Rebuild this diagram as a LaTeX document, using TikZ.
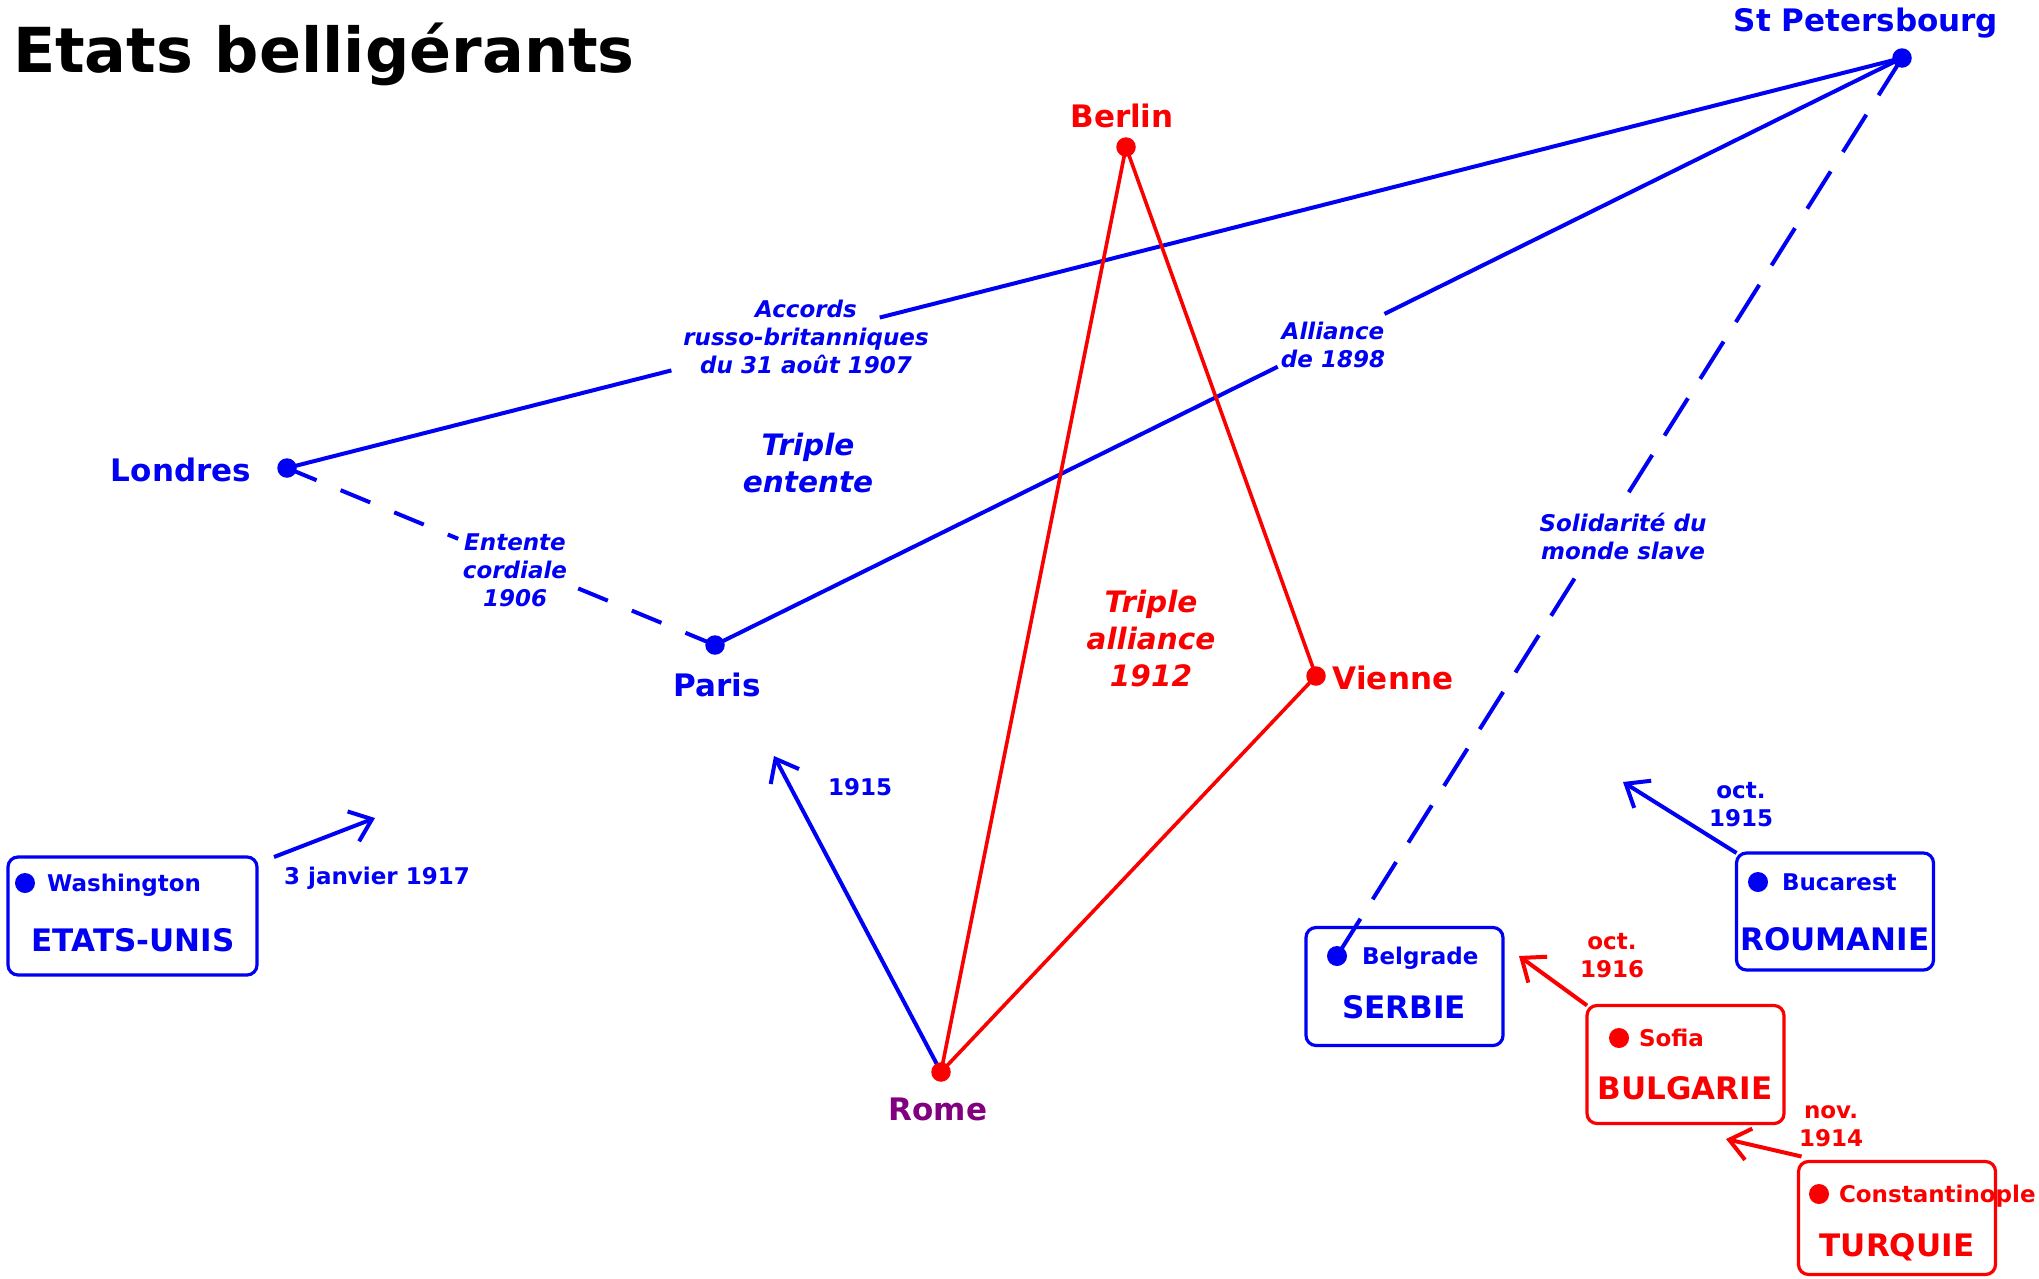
\documentclass[tikz,border=0pt]{standalone}
\usepackage{fontspec}
\setmainfont{DejaVu Sans}
\usetikzlibrary{arrows.meta,calc}
\definecolor{cblue}{RGB}{0,0,245}
\definecolor{cred}{RGB}{250,0,0}
\definecolor{cpurple}{RGB}{128,0,128}
\begin{document}
\begin{tikzpicture}[x=1pt,y=-1pt,
  every node/.style={inner sep=0pt, outer sep=0pt},
  dotb/.style={circle, fill=cblue, minimum size=19.5pt, inner sep=0pt},
  dotr/.style={circle, fill=cred, minimum size=19.5pt, inner sep=0pt},
  bdotb/.style={circle, fill=cblue, minimum size=20pt, inner sep=0pt},
  bdotr/.style={circle, fill=cred, minimum size=20pt, inner sep=0pt},
  city/.style={anchor=base, font=\fontsize{31}{37}\selectfont\bfseries},
  linklab/.style={align=center, font=\fontsize{23}{28}\selectfont\bfseries\itshape, text=cblue},
  biglab/.style={align=center, font=\fontsize{29.5}{37}\selectfont\bfseries\itshape},
  datelab/.style={align=center, font=\fontsize{23}{28}\selectfont\bfseries},
  smalllab/.style={anchor=base west, font=\fontsize{23}{28}\selectfont\bfseries},
  countrylab/.style={anchor=base, font=\fontsize{31}{37}\selectfont\bfseries},
  bluel/.style={draw=cblue, line width=4pt},
  redl/.style={draw=cred, line width=3.6pt},
  dashl/.style={bluel, dash pattern=on 32pt off 26pt},
  ldashl/.style={bluel, dash pattern=on 44pt off 23pt},
  arr/.style={line width=4pt, -{Straight Barb[length=20pt,width=32pt]}},
  boxb/.style={draw=cblue, line width=3.2pt, rounded corners=10pt, minimum width=197pt, minimum height=118pt},
  boxr/.style={draw=cred, line width=3.2pt, rounded corners=10pt, minimum width=197pt, minimum height=118pt}
]
\useasboundingbox[fill=white] (0,0) rectangle (2039,1278);

% title
\node[anchor=base west, font=\fontsize{62}{70}\selectfont\bfseries] (title) at (13,72) {Etats belligérants};

% city positions
\coordinate (stp) at (1902,58);
\coordinate (ber) at (1126,147);
\coordinate (lon) at (287,468);
\coordinate (par) at (715,645);
\coordinate (vie) at (1316,676);
\coordinate (rom) at (941,1072);
\coordinate (bel) at (1337,956);

% boxes
\node[boxb, minimum width=249pt] (usa) at (132.5,916) {};
\node[boxb] (ser) at (1404.5,986.5) {};
\node[boxb, minimum height=117pt] (rou) at (1835,911.5) {};
\node[boxr] (bul) at (1685.5,1064.5) {};
\node[boxr, minimum height=113pt] (tur) at (1897,1218) {};

% blue links
\draw[bluel] (lon) -- ($(lon)!0.238!(stp)$);
\draw[bluel] ($(lon)!0.367!(stp)$) -- (stp);
\draw[bluel] (par) -- ($(par)!0.474!(stp)$);
\draw[bluel] ($(par)!0.564!(stp)$) -- (stp);
\draw[dashl] (lon) -- ($(lon)!0.40!(par)$);
\draw[dashl] (par) -- ($(lon)!0.678!(par)$);
\draw[ldashl] (stp) -- ($(stp)!0.488!(bel)$);
\draw[ldashl] (bel) -- ($(stp)!0.575!(bel)$);

% arrows
\coordinate (romtip) at (774,756);
\coordinate (usatip) at (375,818);
\coordinate (routip) at (1623,782);
\coordinate (bultip) at (1519,956);
\coordinate (turtip) at (1726,1139);
\draw[arr, cblue] (rom) -- (romtip);
\draw[arr, cblue] ([xshift=17pt]usa.north east) -- (usatip);
\draw[arr, cblue] (rou.north west) -- (routip);
\draw[arr, cred] (bul.north west) -- (bultip);
\draw[arr, cred] ([xshift=3pt,yshift=5pt]tur.north west) -- (turtip);

% red links
\draw[redl] (ber) -- (rom);
\draw[redl] (ber) -- (vie);
\draw[redl] (vie) -- (rom);

% dots
\node[dotb] (stpdot) at (stp) {};
\node[dotr] (berdot) at (ber) {};
\node[dotb] (londot) at (lon) {};
\node[dotb] (pardot) at (par) {};
\node[dotr] (viedot) at (vie) {};
\node[dotr] (romdot) at (rom) {};

% city labels
\node[city, text=cblue] (stpl) at (1866,31) {St Petersbourg};
\node[city, text=cred] (berl) at (1122,127) {Berlin};
\node[city, text=cblue] (lonl) at (181,481) {Londres};
\node[city, text=cblue] (parl) at (717,696) {Paris};
\node[city, text=cred] (viel) at (1393,689) {Vienne};
\node[city, text=cpurple] (roml) at (938,1120) {Rome};

% link labels
\node[linklab] (accl) at (806,337) {Accords\\russo-britanniques\\du 31 août 1907};
\node[linklab] (entl) at (515,570) {Entente\\cordiale\\1906};
\node[linklab] (alll) at (1333,345) {Alliance\\de 1898};
\node[linklab] (soll) at (1623,536) {Solidarité du\\monde slave};
\node[biglab, text=cblue] (tentl) at (808,463) {Triple\\entente};
\node[biglab, text=cred] (tall) at (1151,639) {Triple\\alliance\\1912};

% date labels
\node[datelab, text=cblue] (d1915) at (860,787) {1915};
\node[datelab, text=cblue] (d1917) at (377,878) {3 janvier 1917};
\node[datelab, text=cblue] (dro) at (1741,805) {oct.\\1915};
\node[datelab, text=cred] (dbu) at (1612,956) {oct.\\1916};
\node[datelab, text=cred] (dtu) at (1831,1126) {nov.\\1914};

% box contents
\node[bdotb] (wdot) at (25,883) {};
\node[smalllab, text=cblue] (wlab) at (47,891.4) {Washington};
\node[countrylab, text=cblue] (usal) at (133,951.3) {ETATS-UNIS};

\node[bdotb] (beldot) at (bel) {};
\node[smalllab, text=cblue] (bell) at (1362,964.4) {Belgrade};
\node[countrylab, text=cblue] (serl) at (1404,1018.3) {SERBIE};

\node[bdotb] (bucdot) at (1758,882) {};
\node[smalllab, text=cblue] (bucl) at (1782,890.4) {Bucarest};
\node[countrylab, text=cblue] (roul) at (1835,950.3) {ROUMANIE};

\node[bdotr] (sofdot) at (1619,1038) {};
\node[smalllab, text=cred] (sofl) at (1639,1046.4) {Sofia};
\node[countrylab, text=cred] (bull) at (1685,1099.3) {BULGARIE};

\node[bdotr] (condot) at (1819,1194) {};
\node[smalllab, text=cred] (conl) at (1839,1202.4) {Constantinople};
\node[countrylab, text=cred] (turl) at (1897,1256.3) {TURQUIE};
\end{tikzpicture}
\end{document}
